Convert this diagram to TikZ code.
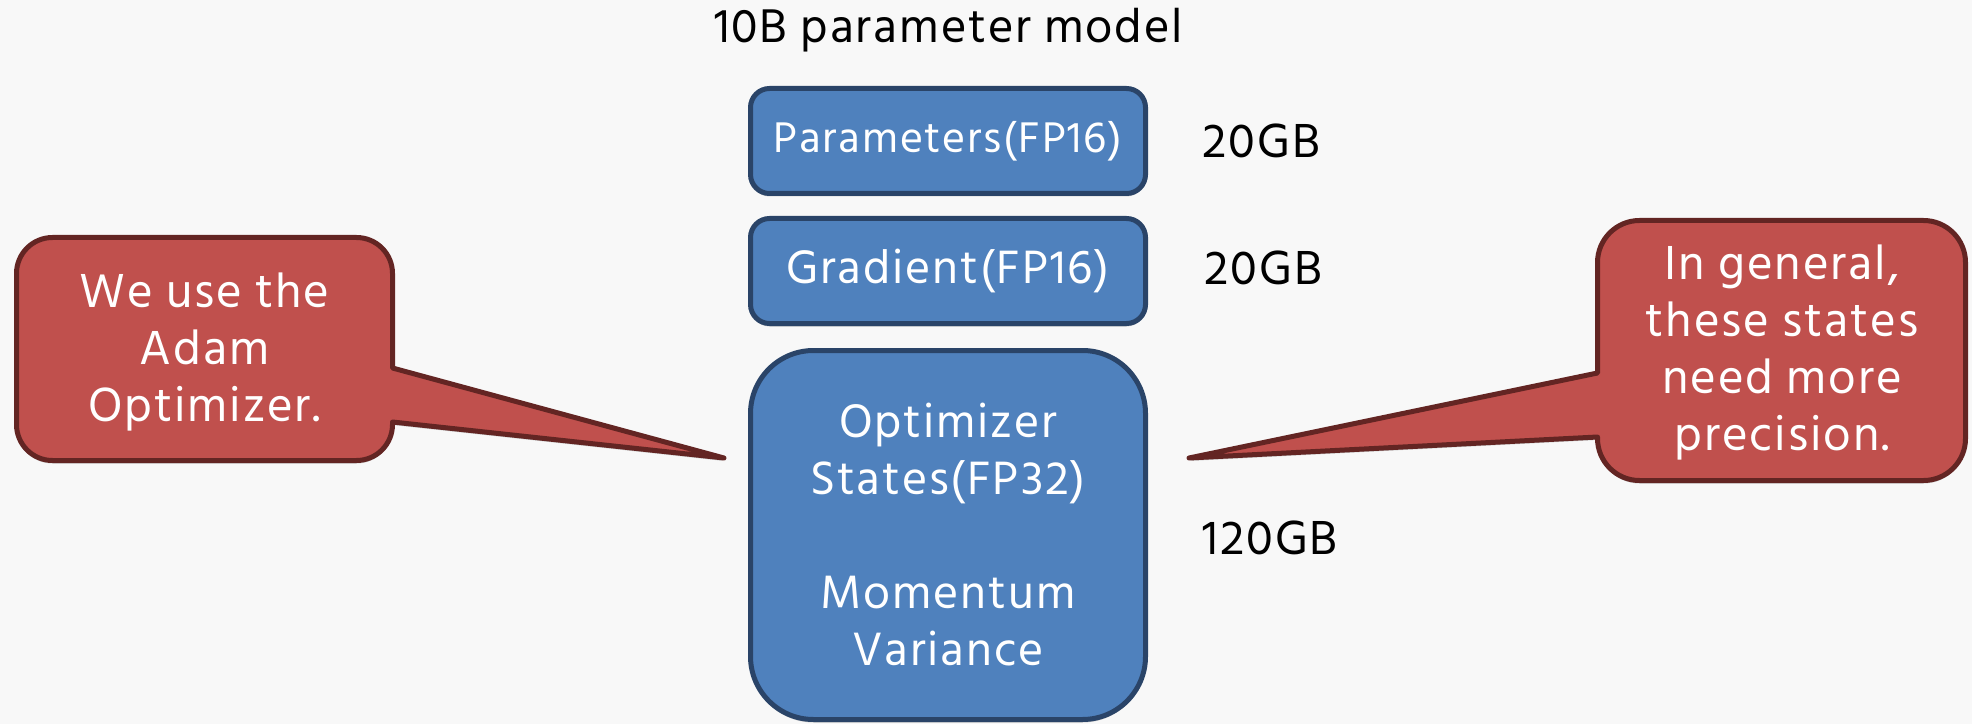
\documentclass[tikz,border=0pt]{standalone}
\usepackage{fontspec}
\setmainfont[LetterSpace=4]{Hind Siliguri}
\usetikzlibrary{shadows}
\definecolor{bg}{HTML}{F8F8F8}
\definecolor{bluefill}{HTML}{4F81BD}
\definecolor{blueline}{HTML}{2A4468}
\definecolor{redfill}{HTML}{C0504D}
\definecolor{redline}{HTML}{632523}
\begin{document}
\begin{tikzpicture}[x=1pt,y=1pt,
  softshadow/.style={drop shadow={shadow xshift=0pt,shadow yshift=-3pt,opacity=0.18,fill=black}},
  blk/.style={draw=blueline, fill=bluefill, line width=5pt, rounded corners=#1,
    minimum width=395pt, text=white, align=center, softshadow},
  callout/.style={draw=redline, fill=redfill, line width=5pt, line join=round, softshadow},
  calltext/.style={text=white, align=center, font=\fontsize{49}{57}\selectfont},
  lbl/.style={anchor=base west, font=\fontsize{49}{56}\selectfont}]
\useasboundingbox (0,0) rectangle (1972,724);
\fill[bg] (0,0) rectangle (1972,724);

% title
\node[anchor=base, font=\fontsize{48.5}{56}\selectfont] (title) at (948.5,681) {10B parameter model};

% blocks
\node[blk=19pt, minimum height=105pt, font=\fontsize{44}{50}\selectfont] (params) at (948,583) {Parameters(FP16)};
\node[blk=19pt, minimum height=105pt, font=\fontsize{48}{55}\selectfont] (grad) at (948,453) {Gradient(FP16)};
\node[blk=63pt, minimum height=369pt, font=\fontsize{48}{57}\selectfont] (opt) at (948,189)
  {Optimizer\\States(FP32)\\[57pt]Momentum\\Variance};

% sizes
\node[lbl] (s1) at (1199,566) {20GB};
\node[lbl] (s2) at (1201,439) {20GB};
\node[lbl] (s3) at (1199,170) {120GB};

% callouts
\coordinate (tipL) at (724,266);
\coordinate (tipR) at (1189,266);

\path[callout] (392.5,356) -- (tipL) -- (392.5,302) -- (392.5,299.5)
  arc[start angle=0,end angle=-90,radius=36] -- (52.5,263.5)
  arc[start angle=270,end angle=180,radius=36] -- (16.5,450.5)
  arc[start angle=180,end angle=90,radius=36] -- (356.5,486.5)
  arc[start angle=90,end angle=0,radius=36] -- cycle;
\node[calltext] (ltext) at (204.5,372) {We use the\\Adam\\Optimizer.};

\path[callout] (1597.5,287) -- (tipR) -- (1597.5,351) -- (1597.5,461.5)
  arc[start angle=180,end angle=90,radius=42] -- (1923.5,503.5)
  arc[start angle=90,end angle=0,radius=42] -- (1965.5,285.5)
  arc[start angle=0,end angle=-90,radius=42] -- (1639.5,243.5)
  arc[start angle=270,end angle=180,radius=42] -- cycle;
\node[calltext] (rtext) at (1782,371.5) {In general,\\these states\\need more\\precision.};
\end{tikzpicture}
\end{document}
